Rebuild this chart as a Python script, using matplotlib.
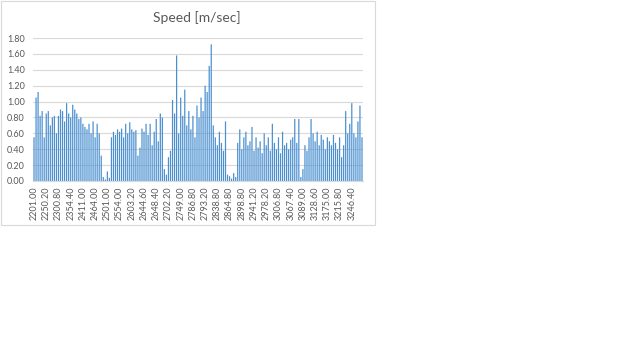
import numpy as np
import matplotlib
matplotlib.use("Agg")
import matplotlib.pyplot as plt
from matplotlib.patches import Rectangle

# speed per sample [m/sec]
speed = [
    0.55, 1.05, 1.12, 0.82, 0.88, 0.55, 0.85, 0.88, 0.70, 0.80,
    0.82, 0.60, 0.82, 0.90, 0.88, 0.75, 0.98, 0.85, 0.80, 0.96,
    0.90, 0.85, 0.78, 0.80, 0.72, 0.68, 0.65, 0.72, 0.60, 0.75,
    0.55, 0.72, 0.60, 0.32, 0.05, 0.02, 0.12, 0.04, 0.55, 0.62,
    0.58, 0.65, 0.62, 0.66, 0.55, 0.72, 0.60, 0.74, 0.65, 0.62,
    0.64, 0.32, 0.42, 0.66, 0.62, 0.72, 0.58, 0.72, 0.45, 0.62,
    0.78, 0.50, 0.85, 0.80, 0.15, 0.08, 0.30, 0.38, 1.02, 0.85,
    1.58, 0.60, 1.05, 0.82, 1.15, 0.70, 0.88, 0.65, 0.82, 0.55,
    0.95, 0.80, 1.05, 0.88, 1.20, 1.12, 1.45, 1.72, 0.70, 0.55,
    0.45, 0.62, 0.48, 0.38, 0.75, 0.08, 0.06, 0.03, 0.10, 0.05,
    0.48, 0.65, 0.40, 0.55, 0.62, 0.45, 0.50, 0.68, 0.38, 0.55,
    0.42, 0.50, 0.35, 0.60, 0.45, 0.55, 0.38, 0.72, 0.48, 0.40,
    0.55, 0.35, 0.62, 0.45, 0.48, 0.40, 0.52, 0.55, 0.78, 0.48,
    0.78, 0.05, 0.15, 0.45, 0.38, 0.55, 0.78, 0.60, 0.50, 0.62,
    0.45, 0.58, 0.52, 0.40, 0.55, 0.50, 0.45, 0.58, 0.48, 0.40,
    0.55, 0.30, 0.45, 0.88, 0.60, 0.72, 0.98, 0.60, 0.55, 0.75,
    0.95, 0.55,
]

# category labels shown on the x axis (every 6th sample)
tick_labels = ["2201.00", "2250.20", "2300.80", "2354.40", "2411.00", "2464.00",
               "2501.00", "2554.00", "2603.20", "2644.60", "2648.40", "2702.20",
               "2749.00", "2786.80", "2793.20", "2838.80", "2864.80", "2898.80",
               "2941.20", "2978.20", "3006.80", "3067.40", "3089.00", "3128.60",
               "3175.00", "3215.80", "3246.40"]
label_step = 6

y_ticks = [0.0, 0.2, 0.4, 0.6, 0.8, 1.0, 1.2, 1.4, 1.6, 1.8]

plt.rcParams['font.family'] = ['Lato', 'DejaVu Sans']
txt = '#595959'

fig = plt.figure(figsize=(6.4, 3.59), dpi=100)
fig.patches.append(Rectangle((0.5 / 640, 1 - 225 / 359), 374 / 640, 224.5 / 359,
                             transform=fig.transFigure, fill=False,
                             edgecolor='#D9D9D9', lw=0.8))

ax = fig.add_axes([33 / 640, (359 - 181) / 359, 330 / 640, 143 / 359])
x = np.arange(len(speed))
bars = ax.bar(x, speed, width=0.6, color='#4A8FD0', linewidth=0, zorder=2)
for b in bars:
    b.set_snap(False)

ax.set_xlim(-0.5, len(speed) - 0.5)
ax.set_ylim(0, 1.8)
ax.set_yticks(y_ticks)
ax.set_yticklabels(["%.2f" % v for v in y_ticks])
ax.set_xticks(x[::label_step])
ax.set_xticklabels(tick_labels, rotation=90)
ax.tick_params(axis='both', length=0, labelsize=6.5, colors=txt)
ax.tick_params(axis='y', pad=6)
ax.tick_params(axis='x', pad=4)
ax.grid(axis='y', color='#D9D9D9', lw=0.8, zorder=0)
for s in ['top', 'right', 'left']:
    ax.spines[s].set_visible(False)
ax.spines['bottom'].set_color('#D9D9D9')
ax.spines['bottom'].set_linewidth(0.8)

fig.text(197 / 640, 1 - 18 / 359, "Speed [m/sec]", ha='center', va='center',
         fontsize=10, color=txt)

plt.savefig('out.png', dpi=100)
